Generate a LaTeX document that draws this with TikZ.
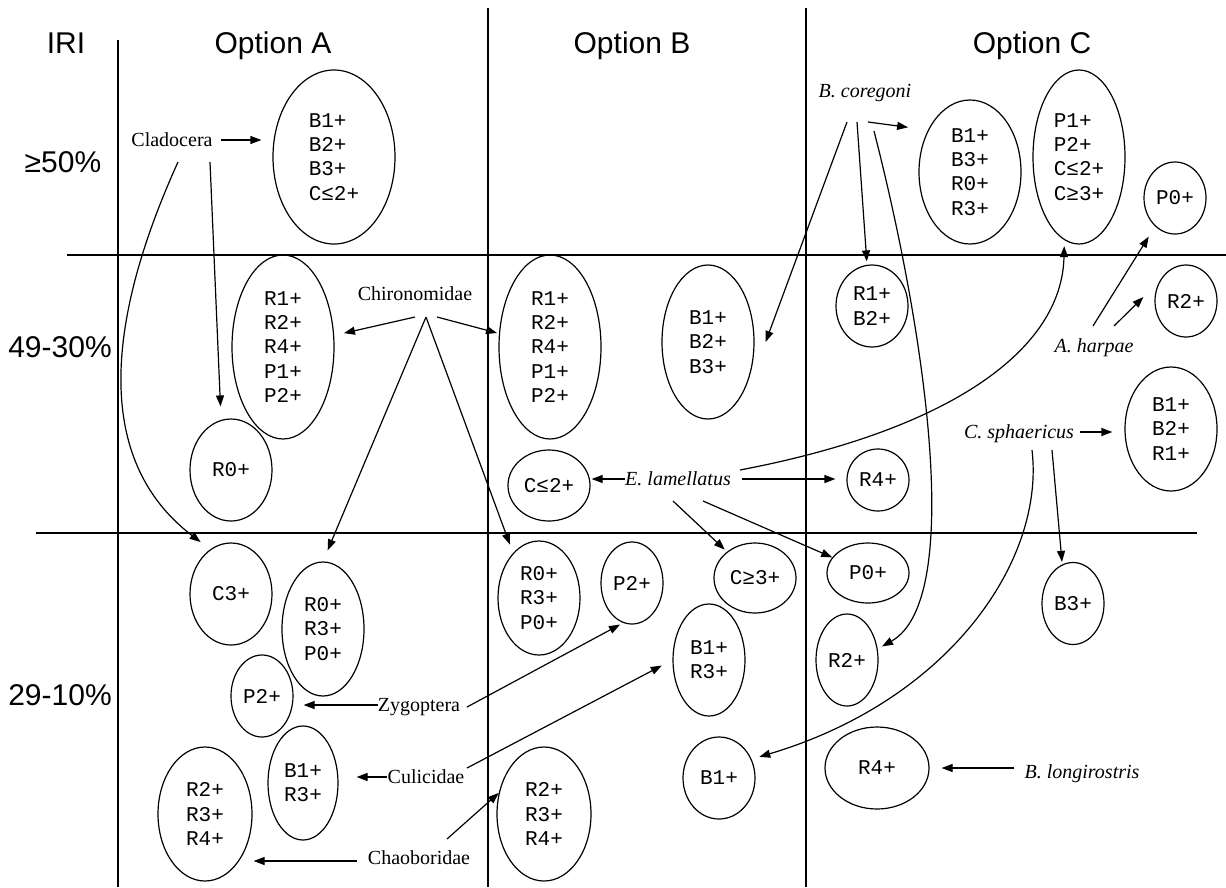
\documentclass[tikz,border=0pt]{standalone}
\usepackage{fontspec}
\setmainfont{Liberation Serif}
\newfontfamily\monof{Liberation Mono}
\newfontfamily\headf{Liberation Sans}
\usetikzlibrary{arrows.meta,shapes.geometric}
\tikzset{
  ell/.style={draw, ellipse, line width=1.2pt, inner sep=0pt, align=left,
    font=\monof\fontsize{21}{24.3}\selectfont},
  lab/.style={inner sep=0pt, text height=13.2pt, text depth=0pt,
    font=\fontsize{20}{24}\selectfont},
  ilab/.style={lab, font=\itshape\fontsize{20}{24}\selectfont},
  head/.style={inner sep=0pt, text height=21.5pt, text depth=0pt,
    font=\headf\fontsize{30}{36}\selectfont},
  arr/.style={-{Triangle[length=11pt,width=8pt]}, line width=1.2pt},
  gridline/.style={line width=1.5pt},
}
\begin{document}
\begin{tikzpicture}[x=1pt,y=-1pt]
\useasboundingbox (0,0) rectangle (1226,887);
% grid
\draw[gridline] (118,40) -- (118,887);
\draw[gridline] (488,8) -- (488,887);
\draw[gridline] (806,8) -- (806,887);
\draw[gridline] (67,255) -- (1226,255);
\draw[gridline] (36,533) -- (1197,533);
% headings
\node[head] (iri) at (66,43) {IRI};
\node[head] (opA) at (273,43) {Option A};
\node[head] (opB) at (632,43) {Option B};
\node[head] (opC) at (1032,43) {Option C};
\node[head] (r1) at (63,162) {≥50\%};
\node[head] (r2) at (60,347) {49-30\%};
\node[head] (r3) at (60,695) {29-10\%};
% ellipses option A
\node[ell, minimum width=122pt, minimum height=174pt] (ellA1) at (334,157) {B1+\\B2+\\B3+\\C≤2+};
\node[ell, minimum width=102pt, minimum height=184pt] (ellA2) at (283,347) {R1+\\R2+\\R4+\\P1+\\P2+};
\node[ell, minimum width=82pt, minimum height=102pt] (R0A) at (231,470) {R0+};
\node[ell, minimum width=82pt, minimum height=102pt] (C3A) at (231,594) {C3+};
\node[ell, minimum width=82pt, minimum height=134pt] (RRPA) at (323,629) {R0+\\R3+\\P0+};
\node[ell, minimum width=62pt, minimum height=82pt] (P2A) at (262,696) {P2+};
\node[ell, minimum width=70pt, minimum height=114pt] (B1R3A) at (303,783) {B1+\\R3+};
\node[ell, minimum width=94pt, minimum height=134pt] (RRRA) at (205,814) {R2+\\R3+\\R4+};
% ellipses option B
\node[ell, minimum width=102pt, minimum height=184pt] (ellB2) at (550,347) {R1+\\R2+\\R4+\\P1+\\P2+};
\node[ell, minimum width=92pt, minimum height=154pt] (ellBB) at (708,342) {B1+\\B2+\\B3+};
\node[ell, minimum width=82pt, minimum height=71pt] (Cle2B) at (549,485.5) {C≤2+};
\node[ell, minimum width=82pt, minimum height=114pt] (RRPB) at (539,598) {R0+\\R3+\\P0+};
\node[ell, minimum width=62pt, minimum height=82pt] (P2B) at (632,583) {P2+};
\node[ell, minimum width=82pt, minimum height=70pt] (CGe3B) at (755,578) {C≥3+};
\node[ell, minimum width=72pt, minimum height=112pt] (B1R3B) at (709,660) {B1+\\R3+};
\node[ell, minimum width=72pt, minimum height=82pt] (B1Bb) at (719,778) {B1+};
\node[ell, minimum width=94pt, minimum height=134pt] (RRRB) at (544,814) {R2+\\R3+\\R4+};
% ellipses option C
\node[ell, minimum width=102pt, minimum height=144pt] (ellC1) at (970,172) {B1+\\B3+\\R0+\\R3+};
\node[ell, minimum width=92pt, minimum height=174pt] (PPCC) at (1079,157) {P1+\\P2+\\C≤2+\\C≥3+};
\node[ell, minimum width=62pt, minimum height=72pt] (P0Ct) at (1175,198) {P0+};
\node[ell, minimum width=72pt, minimum height=82pt] (R1B2C) at (872,306) {R1+\\B2+};
\node[ell, minimum width=62pt, minimum height=72pt] (R2Ct) at (1186,301) {R2+};
\node[ell, minimum width=92pt, minimum height=124pt] (B12R1C) at (1171,429) {B1+\\B2+\\R1+};
\node[ell, minimum width=62pt, minimum height=62pt] (R4Cm) at (878,480) {R4+};
\node[ell, minimum width=82pt, minimum height=60pt] (P0Cb) at (868,573) {P0+};
\node[ell, minimum width=62pt, minimum height=92pt] (R2Cb) at (847,660) {R2+};
\node[ell, minimum width=62pt, minimum height=82pt] (B3C) at (1073,603.5) {B3+};
\node[ell, minimum width=104pt, minimum height=82pt] (R4Cb) at (877,768) {R4+};
% labels
\node[lab] (clad) at (172,140) {Cladocera};
\node[lab] (chir) at (415,294) {Chironomidae};
\node[ilab] (bcor) at (865,91) {B. coregoni};
\node[ilab] (elam) at (678,479) {E. lamellatus};
\node[ilab] (harp) at (1094,346) {A. harpae};
\node[ilab] (csph) at (1019,432) {C. sphaericus};
\node[lab] (zyg) at (419,705) {Zygoptera};
\node[lab] (culi) at (426,777) {Culicidae};
\node[lab] (chao) at (419,858) {Chaoboridae};
\node[ilab] (blong) at (1082,772) {B. longirostris};
% hub points
\coordinate (cladA) at (178,162);
\coordinate (cladB) at (210,162);
\coordinate (chirL) at (415,317);
\coordinate (chirR) at (437,317);
\coordinate (chirM) at (426,317);
\coordinate (bcA) at (847,122);
\coordinate (bcB) at (857,122);
\coordinate (bcC) at (868,122);
\coordinate (bcD) at (874,131);
\coordinate (elC) at (740,470);
\coordinate (elD1) at (673,501);
\coordinate (elD2) at (703,501);
\coordinate (haA) at (1093,326);
\coordinate (haB) at (1114,326);
\coordinate (csA) at (1032,450);
\coordinate (csB) at (1052,450);
\coordinate (zyR) at (467,707);
\coordinate (cuR) at (467,768);
\coordinate (chR) at (447,839);
% Cladocera
\draw[arr, shorten <=8pt, shorten >=11pt] (clad.east) -- (clad.east -| ellA1.west);
\draw[arr, shorten >=12pt] (cladB) -- ([xshift=-10pt]R0A.north);
\draw[arr, shorten >=12pt] (cladA) .. controls (120,290) and (80,450) .. (C3A.115);
% Chironomidae
\draw[arr, shorten >=10pt] (chirL) -- (ellA2);
\draw[arr, shorten >=2pt] (chirR) -- (ellB2);
\draw[arr, shorten >=12pt] (chirM) -- (RRPA.north);
\draw[arr, shorten >=9pt] (chirM) -- (RRPB.120);
% B. coregoni
\draw[arr] (bcA) -- ([xshift=11pt]ellBB.east);
\draw[arr, shorten >=3pt] (bcB) -- ([xshift=-5pt]R1B2C.north);
\draw[arr, shorten >=20pt] (bcC) -- (ellC1.135);
\draw[arr, shorten >=5pt] (bcD) .. controls (925,330) and (965,600) .. (R2Cb.20);
% E. lamellatus
\draw[arr, shorten >=1pt] (elam.west) -- (elam.west -| Cle2B.east);
\draw[arr, shorten <=11pt, shorten >=11pt] (elam.east) -- (elam.east -| R4Cm.west);
\draw[arr, shorten >=6pt] (elC) .. controls (950,430) and (1062,350) .. (PPCC.260);
\draw[arr, shorten >=3pt] (elD1) -- (CGe3B);
\draw[arr] (elD2) -- (P0Cb);
% A. harpae
\draw[arr, shorten >=12pt] (haA) -- (P0Ct.235);
\draw[arr] (haB) -- ([xshift=-11pt,yshift=4pt]R2Ct.west);
% C. sphaericus
\draw[arr, shorten <=6pt, shorten >=12pt] (csph.east) -- (csph.east -| B12R1C.west);
\draw[arr] (csB) -- ([xshift=-11pt]B3C.north);
\draw[arr, shorten >=8pt] (csA) .. controls (1045,560) and (950,700) .. (B1Bb.30);
% Zygoptera
\draw[arr, shorten >=10pt] (zyg.west) -- (zyg.west -| P2A.east);
\draw[arr] (zyR) -- ([xshift=-12pt]P2B.south);
% Culicidae
\draw[arr, shorten >=18pt] (culi.west) -- (culi.west -| B1R3A.east);
\draw[arr, shorten >=12pt] (cuR) -- (B1R3B.west);
% Chaoboridae
\draw[arr, shorten <=11pt, shorten >=1pt] ([yshift=-3pt]chao.west) -- ([yshift=-3pt]chao.west -| RRRA.east);
\draw[arr] (chR) -- (RRRB.155);
% B. longirostris
\draw[arr, shorten <=10pt, shorten >=12pt] ([yshift=4pt]blong.west) -- ([yshift=4pt]blong.west -| R4Cb.east);
\end{tikzpicture}
\end{document}
